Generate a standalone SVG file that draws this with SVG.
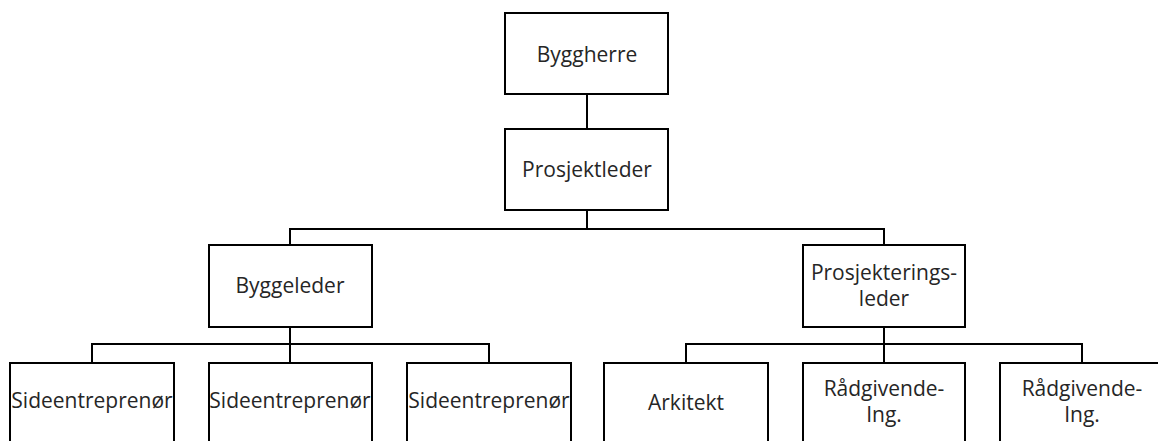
<svg xmlns="http://www.w3.org/2000/svg" width="1158" height="441" viewBox="0 0 1158 441">
  <style>
    .box { fill: #ffffff; stroke: #000000; stroke-width: 2; }
    .link { fill: none; stroke: #000000; stroke-width: 2; }
    .label { font-family: "Open Sans", "Noto Sans", sans-serif; font-size: 21px; fill: #262626; text-anchor: middle; }
  </style>
  <rect width="1158" height="441" fill="#ffffff"/>

  <!-- org-chart connectors -->
  <g id="connectors">
    <path class="link" d="M587 94 V129"/>
    <path class="link" d="M587 210 V229 M290 245 V229 H884 V245"/>
    <path class="link" d="M290 327 V363 M92 363 V344 H489 V363"/>
    <path class="link" d="M884 327 V363 M686 363 V344 H1082 V363"/>
  </g>

  <g id="byggherre">
    <rect class="box" x="505" y="13" width="163" height="81"/>
    <text class="label" x="587" y="62">Byggherre</text>
  </g>
  <g id="prosjektleder">
    <rect class="box" x="505" y="129" width="163" height="81"/>
    <text class="label" x="587" y="177">Prosjektleder</text>
  </g>
  <g id="byggeleder">
    <rect class="box" x="209" y="245" width="163" height="82"/>
    <text class="label" x="290" y="293">Byggeleder</text>
  </g>
  <g id="prosjekteringsleder">
    <rect class="box" x="803" y="245" width="162" height="82"/>
    <text class="label" x="884" y="280">Prosjekterings-</text>
    <text class="label" x="884" y="306">leder</text>
  </g>

  <g id="sideentreprenor-1">
    <rect class="box" x="10" y="363" width="164" height="100"/>
    <text class="label" x="92" y="408">Sideentreprenør</text>
  </g>
  <g id="sideentreprenor-2">
    <rect class="box" x="209" y="363" width="163" height="100"/>
    <text class="label" x="290" y="408">Sideentreprenør</text>
  </g>
  <g id="sideentreprenor-3">
    <rect class="box" x="407" y="363" width="164" height="100"/>
    <text class="label" x="489" y="408">Sideentreprenør</text>
  </g>
  <g id="arkitekt">
    <rect class="box" x="604" y="363" width="164" height="100"/>
    <text class="label" x="686" y="410">Arkitekt</text>
  </g>
  <g id="radgivende-ing-1">
    <rect class="box" x="803" y="363" width="162" height="100"/>
    <text class="label" x="884" y="396">Rådgivende-</text>
    <text class="label" x="884" y="422">Ing.</text>
  </g>
  <g id="radgivende-ing-2">
    <rect class="box" x="1000" y="363" width="164" height="100"/>
    <text class="label" x="1082" y="396">Rådgivende-</text>
    <text class="label" x="1082" y="422">Ing.</text>
  </g>
</svg>
